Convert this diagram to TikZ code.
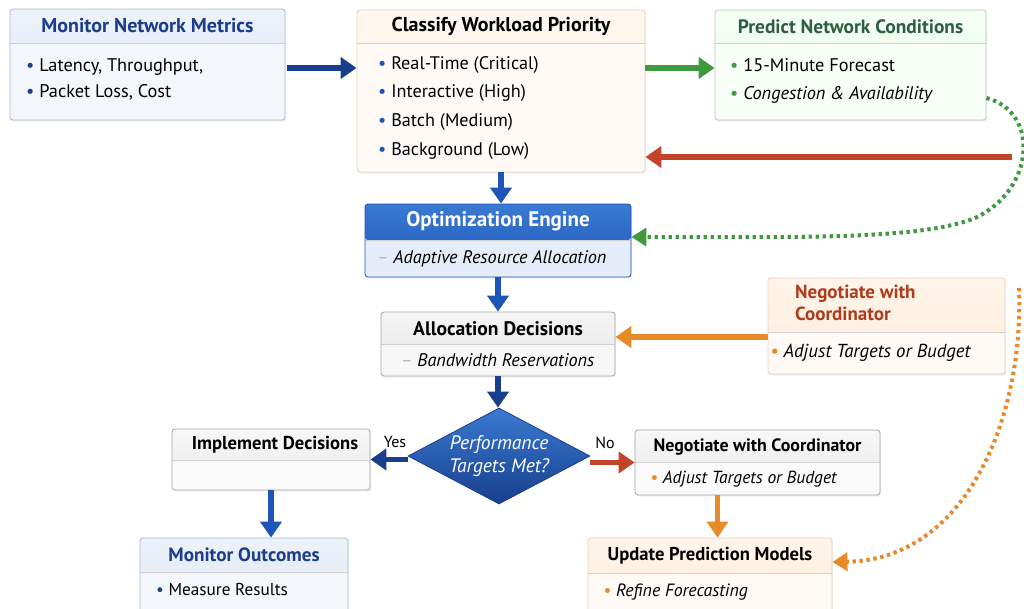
\documentclass[tikz,border=0pt]{standalone}
\usepackage{fontspec}
\setmainfont{PT Sans}
\usetikzlibrary{arrows.meta, shapes.geometric, shadows, calc}

\definecolor{navy}{HTML}{183F8C}
\definecolor{mblue}{HTML}{1D55B8}
\definecolor{ttlblue}{HTML}{1C3C8C}
\definecolor{dgreen}{HTML}{3F9A3F}
\definecolor{ttlgreen}{HTML}{2E5E40}
\definecolor{dred}{HTML}{C4432B}
\definecolor{dorange}{HTML}{E8892A}
\definecolor{ttlbrown}{HTML}{B03C1C}
\definecolor{bluebody}{HTML}{F3F7FC}
\definecolor{bluehdA}{HTML}{EDF2FA}
\definecolor{bluehdB}{HTML}{DCE6F4}
\definecolor{blueline}{HTML}{A9BAD3}
\definecolor{optbody}{HTML}{E4EDF9}
\definecolor{opthdA}{HTML}{3A7AD2}

\begin{document}
\begin{tikzpicture}[x=1pt, y=-1pt]
  \tikzstyle{panel} = [draw=#1, line width=0.8pt, rounded corners=3pt, inner sep=0pt,
                       drop shadow={opacity=0.12, shadow xshift=1.2pt, shadow yshift=-1.6pt}]
  \tikzset{hdr/.style 2 args={path picture={
      \fill[#1] (path picture bounding box.north west) rectangle ([yshift=-#2]path picture bounding box.north east);
      \draw[black!18, line width=0.6pt] ([yshift=-#2]path picture bounding box.north west) -- ([yshift=-#2]path picture bounding box.north east);}}}
  \tikzset{ttl/.style={inner sep=0pt, font=\fontsize{#1}{22}\selectfont\bfseries}, ttl/.default=19}
  \tikzset{itm/.style={anchor=west, inner sep=0pt, font=\fontsize{#1}{20}\selectfont}, itm/.default=17.5}
  \tikzset{itmi/.style={anchor=west, inner sep=0pt, font=\fontsize{#1}{20}\selectfont\itshape}, itmi/.default=17.5}
  \tikzstyle{arr} = [line width=5.5pt, -{Triangle[length=16pt, width=21pt]}]
  \tikzstyle{dots} = [line width=4pt, dash pattern=on 3.4pt off 3.6pt, -{Triangle[length=15pt, width=18pt]}]

  \useasboundingbox[fill=white] (0,0) rectangle (1024,608);

  % top row
  \node[panel=blueline, fill=bluebody, hdr={top color=bluehdA, bottom color=bluehdB}{34pt},
        minimum width=275pt, minimum height=111pt] (monitor) at (147.5,64.5) {};
  \node[ttl=20, text=ttlblue] (monitor-title) at ([yshift=-17pt]monitor.north) {Monitor Network Metrics};
  \node[itm=18.3] (monitor-1) at (26,67) {\textcolor{navy}{•}~Latency, Throughput,};
  \node[itm=18.3] (monitor-2) at (26,92) {\textcolor{navy}{•}~Packet Loss, Cost};

  \node[panel=brown!35, fill=orange!4, hdr={top color=orange!6, bottom color=orange!14}{33pt},
        minimum width=288pt, minimum height=162pt] (classify) at (501,91) {};
  \node[ttl=20] (classify-title) at ([yshift=-17pt]classify.north) {Classify Workload Priority};
  \node[itm=18.2] (classify-1) at (378,65) {\textcolor{mblue}{•}~Real-Time (Critical)};
  \node[itm=18.2] (classify-2) at (378,93) {\textcolor{mblue}{•}~Interactive (High)};
  \node[itm=18.2] (classify-3) at (378,122) {\textcolor{mblue}{•}~Batch (Medium)};
  \node[itm=18.2] (classify-4) at (378,151) {\textcolor{mblue}{•}~Background (Low)};

  \node[panel=green!10!black!25, fill=green!3, hdr={top color=green!4, bottom color=green!10}{33pt},
        minimum width=271pt, minimum height=110pt] (predict) at (850.5,65) {};
  \node[ttl=19.4, text=ttlgreen] (predict-title) at ([yshift=-17pt]predict.north) {Predict Network Conditions};
  \node[itm=18.3] (predict-1) at (730,65) {\textcolor{dgreen}{•}~15-Minute Forecast};
  \node[itm=18.3] (predict-2) at (730,95) {\textcolor{dgreen}{•}~\textit{Congestion \& Availability}};

  % engine and decisions
  \node[panel=mblue, fill=optbody, hdr={top color=opthdA, bottom color=mblue}{36pt},
        minimum width=266pt, minimum height=73pt] (optimize) at (498,240.5) {};
  \node[ttl=21, text=white] (optimize-title) at ([yshift=-18pt]optimize.north) {Optimization Engine};
  \node[itmi=18.2] (optimize-1) at (377,259) {\textcolor{black!30}{–}~Adaptive Resource Allocation};

  \node[panel=black!35, fill=black!3, hdr={top color=black!4, bottom color=black!10}{32pt},
        minimum width=234pt, minimum height=64pt] (alloc) at (498,344) {};
  \node[ttl=19.6] (alloc-title) at ([yshift=-17pt]alloc.north) {Allocation Decisions};
  \node[itmi=18.2] (alloc-1) at (401,360) {\textcolor{black!30}{–}~Bandwidth Reservations};

  \node[panel=brown!35, fill=orange!4, hdr={top color=orange!8, bottom color=orange!15}{54pt},
        minimum width=237pt, minimum height=96pt] (negR) at (886.5,326) {};
  \node[ttl=19, text=ttlbrown, align=left, anchor=north west] (negR-title) at (795,285) {Negotiate with\\Coordinator};
  \node[itmi=18.8] (negR-1) at (770,353) {\textcolor{dorange}{•}~Adjust Targets or Budget};

  \node[diamond, draw=navy, line width=0.8pt, top color=opthdA, bottom color=navy,
        minimum width=182pt, minimum height=96pt, inner sep=0pt] (decide) at (499,456) {};
  \node[text=white, align=center, font=\fontsize{19.5}{23}\selectfont\itshape] (decide-txt) at (decide) {Performance\\Targets Met?};

  % lower row
  \node[panel=black!35, fill=black!2, hdr={top color=black!3, bottom color=black!9}{31pt},
        minimum width=198pt, minimum height=61pt] (implement) at (271,459.5) {};
  \node[ttl=18.6] (implement-title) at ([xshift=4pt, yshift=-16pt]implement.north) {Implement Decisions};

  \node[panel=black!35, fill=black!2, hdr={top color=black!3, bottom color=black!9}{32pt},
        minimum width=245pt, minimum height=65pt] (negL) at (757.5,462.5) {};
  \node[ttl=17.9] (negL-title) at ([yshift=-17pt]negL.north) {Negotiate with Coordinator};
  \node[itmi=17.5] (negL-1) at (650,479) {\textcolor{dorange}{•}~Adjust Targets or Budget};

  \node[panel=blueline, fill=bluebody, hdr={top color=bluehdA, bottom color=bluehdB}{34pt},
        minimum width=208pt, minimum height=82pt] (outcomes) at (244,579) {};
  \node[ttl=19.2, text=ttlblue] (outcomes-title) at ([yshift=-17pt]outcomes.north) {Monitor Outcomes};
  \node[itm=17.2] (outcomes-1) at (156,590) {\textcolor{navy}{•}~Measure Results};

  \node[panel=brown!35, fill=orange!4, hdr={top color=orange!8, bottom color=orange!16}{35pt},
        minimum width=244pt, minimum height=82pt] (update) at (710,579) {};
  \node[ttl=18.6] (update-title) at ([yshift=-18pt]update.north) {Update Prediction Models};
  \node[itmi=17.8] (update-1) at (603,592) {\textcolor{dorange}{•}~Refine Forecasting};

  % connectors
  \coordinate (redsrc) at (1012,157);
  \coordinate (orsrc) at (1019,288);
  \draw[arr, navy, shorten <=2pt] ([yshift=-3.5pt]monitor.east) -- ([yshift=-3.5pt]monitor.east -| classify.west);
  \draw[arr, dgreen] ([yshift=-3pt]predict.west -| classify.east) -- ([yshift=-3pt]predict.west);
  \draw[arr, dred] (redsrc) -- (redsrc -| classify.east);
  \draw[dots, dgreen] ([yshift=-33pt]predict.east) .. controls (1040,112) and (1035,190) .. (975,218)
                      .. controls (920,240) and (800,237) .. ([yshift=3.5pt]optimize.east);
  \draw[arr, mblue] (classify.south) -- (classify.south |- optimize.north);
  \draw[arr, mblue] (optimize.south) -- (optimize.south |- alloc.north);
  \draw[arr, dorange] ([yshift=-11pt]negR.west) -- ([yshift=-11pt]negR.west -| alloc.east);
  \draw[arr, navy] (alloc.south) -- (alloc.south |- decide.north);
  \draw[arr, navy] (decide.west |- implement.east) -- (implement.east);
  \draw[arr, dred] (decide.east |- negL.west) -- (negL.west);
  \draw[arr, mblue] (implement.south) -- (implement.south |- outcomes.north);
  \draw[arr, dorange] ([xshift=-40pt]negL.south) -- ([xshift=-40pt]negL.south |- update.north);
  \draw[dots, dorange] (orsrc) .. controls (1024,420) and (965,560) .. ([yshift=17pt]update.east);
  \node[font=\fontsize{16}{18}\selectfont] (yes) at (395,442) {Yes};
  \node[font=\fontsize{16}{18}\selectfont] (no) at (605,443) {No};
\end{tikzpicture}
\end{document}
